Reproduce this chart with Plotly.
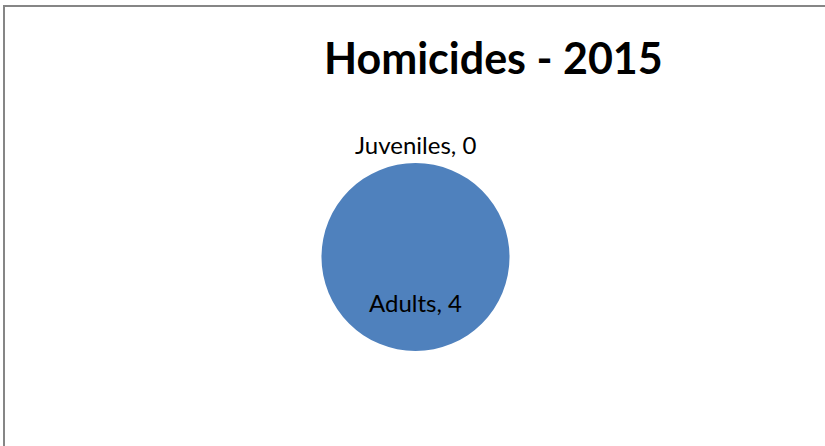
import plotly.graph_objects as go

# Homicide counts by age group, 2015
categories = ["Juveniles", "Adults"]
counts = [0, 4]
title_text = "Homicides - 2015"

W, H = 825, 446
FONT = "Lato"

# pie geometry in pixels
cx, cy, r = 415.5, 257, 94

fig = go.Figure()
fig.add_trace(go.Pie(
    labels=categories,
    values=counts,
    sort=False,
    direction="clockwise",
    rotation=0,
    textinfo="none",
    hoverinfo="label+value",
    marker=dict(colors=["#C0504D", "#4F81BD"], line=dict(width=0)),
    domain=dict(x=[(cx - r) / W, (cx + r) / W],
                y=[(H - cy - r) / H, (H - cy + r) / H]),
    showlegend=False,
))

# data labels "Category, value"
label_pos = {"Juveniles": (415.5, 144), "Adults": (415, 302)}
annotations = []
for cat, val in zip(categories, counts):
    px, py = label_pos[cat]
    annotations.append(dict(
        text=f"{cat}, {val}", x=px / W, y=1 - py / H,
        xref="paper", yref="paper", xanchor="center", yanchor="middle",
        showarrow=False, font=dict(family=FONT, size=24, color="#000000"),
    ))

annotations.append(dict(
    text=f"<b>{title_text}</b>", x=493.5 / W, y=1 - 57 / H,
    xref="paper", yref="paper", xanchor="center", yanchor="middle",
    showarrow=False, font=dict(family=FONT, size=43, color="#000000"),
))

fig.update_layout(
    width=W, height=H,
    margin=dict(l=0, r=0, t=0, b=0),
    paper_bgcolor="#FFFFFF",
    plot_bgcolor="#FFFFFF",
    annotations=annotations,
    shapes=[dict(type="rect", xref="paper", yref="paper",
                 x0=4 / W, x1=1.05, y0=-0.05, y1=1 - 6 / H,
                 line=dict(color="#868686", width=2), fillcolor="rgba(0,0,0,0)")],
)

fig.write_html("out.html")
